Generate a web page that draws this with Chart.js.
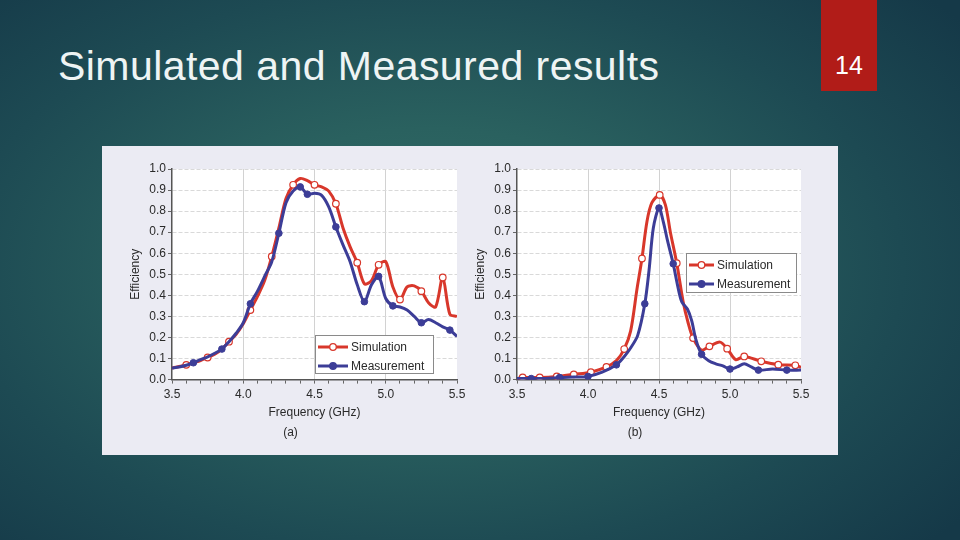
<!DOCTYPE html>
<html>
<head>
<meta charset="utf-8">
<script src="https://cdn.jsdelivr.net/npm/chart.js@4.4.1/dist/chart.umd.min.js"></script>
<style>
  html, body { margin: 0; padding: 0; }
  body {
    width: 960px; height: 540px; overflow: hidden; position: relative;
    font-family: "Liberation Sans", Arial, sans-serif;
    background: radial-gradient(ellipse 70% 75% at 45% 50%, #336e68 0%, #2a615f 35%, #1d4a53 70%, #153948 100%);
  }
  #title {
    position: absolute; left: 58px; top: 46px;
    font-size: 41px; letter-spacing: 0.45px; line-height: 1; color: #eef4f4; white-space: nowrap;
  }
  #pagenum {
    position: absolute; left: 821px; top: 0; width: 56px; height: 91px;
    background: #b11c18; color: #fff;
  }
  #pagenum span {
    position: absolute; left: 0; width: 56px; top: 53px;
    text-align: center; font-size: 25px; line-height: 1;
  }
  #panel {
    position: absolute; left: 102px; top: 146px; width: 736px; height: 309px;
    background: #ebebf3;
  }
  #panel canvas { position: absolute; top: 0; }
</style>
</head>
<body>
<div id="title">Simulated and Measured results</div>
<div id="pagenum"><span>14</span></div>
<div id="panel">
  <canvas id="chartA" width="372" height="309" style="left:0"></canvas>
  <canvas id="chartB" width="372" height="309" style="left:364px"></canvas>
</div>

<script>
// (a) frequencies in GHz
const freqA = [3.5, 3.55, 3.6, 3.65, 3.7, 3.75, 3.8, 3.85, 3.9, 3.95,
  4.0, 4.05, 4.1, 4.15, 4.2, 4.25, 4.3, 4.35, 4.4, 4.45,
  4.5, 4.55, 4.6, 4.65, 4.7, 4.75, 4.8, 4.85, 4.9, 4.95,
  5.0, 5.05, 5.1, 5.15, 5.2, 5.25, 5.3, 5.35, 5.4, 5.45, 5.5];
const simA = [0.055, 0.062, 0.07, 0.08, 0.09, 0.105, 0.12, 0.145, 0.18, 0.215,
  0.265, 0.33, 0.395, 0.47, 0.585, 0.72, 0.86, 0.925, 0.955, 0.945,
  0.925, 0.915, 0.895, 0.835, 0.72, 0.63, 0.555, 0.455, 0.47, 0.545,
  0.56, 0.44, 0.38, 0.44, 0.445, 0.42, 0.365, 0.345, 0.485, 0.31, 0.30];
const measA = [0.055, 0.06, 0.068, 0.08, 0.095, 0.108, 0.125, 0.145, 0.18, 0.22,
  0.27, 0.36, 0.42, 0.49, 0.56, 0.695, 0.84, 0.895, 0.915, 0.88,
  0.885, 0.875, 0.82, 0.725, 0.64, 0.56, 0.45, 0.37, 0.45, 0.49,
  0.385, 0.35, 0.345, 0.33, 0.30, 0.27, 0.285, 0.27, 0.25, 0.235, 0.205];
const simMarkA = [3.6, 3.75, 3.9, 4.05, 4.2, 4.35, 4.5, 4.65, 4.8, 4.95, 5.1, 5.25, 5.4];
const measMarkA = [3.65, 3.85, 4.05, 4.25, 4.4, 4.45, 4.65, 4.85, 4.95, 5.05, 5.25, 5.45];

// (b)
const freqSimB = [3.5, 3.54, 3.66, 3.78, 3.9, 4.02, 4.13, 4.2, 4.255, 4.3,
  4.345, 4.38, 4.415, 4.45, 4.505, 4.545, 4.58, 4.625, 4.67, 4.705,
  4.74, 4.8, 4.855, 4.93, 4.98, 5.04, 5.1, 5.22, 5.34, 5.46, 5.5];
const simB = [0.005, 0.01, 0.01, 0.015, 0.025, 0.035, 0.06, 0.09, 0.145, 0.23,
  0.43, 0.575, 0.75, 0.84, 0.877, 0.83, 0.70, 0.553, 0.37, 0.27,
  0.197, 0.14, 0.158, 0.178, 0.147, 0.095, 0.11, 0.087, 0.071, 0.068, 0.058];
const freqMeasB = [3.5, 3.6, 3.7, 3.8, 3.9, 4.0, 4.1, 4.2, 4.25, 4.3,
  4.35, 4.4, 4.43, 4.46, 4.5, 4.53, 4.56, 4.6, 4.63, 4.66,
  4.7, 4.73, 4.76, 4.8, 4.85, 4.9, 4.95, 5.0, 5.05, 5.1,
  5.15, 5.2, 5.3, 5.4, 5.5];
const measB = [0.005, 0.005, 0.005, 0.01, 0.012, 0.015, 0.035, 0.07, 0.105, 0.15,
  0.21, 0.36, 0.52, 0.72, 0.815, 0.75, 0.66, 0.55, 0.45, 0.37,
  0.335, 0.28, 0.19, 0.12, 0.09, 0.075, 0.065, 0.05, 0.06, 0.075,
  0.06, 0.045, 0.05, 0.045, 0.045];
const simMarkB = [3.54, 3.66, 3.78, 3.9, 4.02, 4.13, 4.255, 4.38, 4.505, 4.625, 4.74, 4.855, 4.98, 5.1, 5.22, 5.34, 5.46];
const measMarkB = [3.6, 3.8, 4.0, 4.2, 4.4, 4.5, 4.6, 4.8, 5.0, 5.2, 5.4];

const seriesNames = ['Simulation', 'Measurement'];
const yTicks = [0, 0.1, 0.2, 0.3, 0.4, 0.5, 0.6, 0.7, 0.8, 0.9, 1.0];

const RED = '#d8372b';
const BLUE = '#3c3d97';
const TXT = '#2a2a2a';

const isHalf = v => Math.abs(v * 2 - Math.round(v * 2)) < 1e-6;
const marked = (list, x) => list.some(m => Math.abs(m - x) < 1e-6);

// legend box drawn inside the plot
const boxLegend = {
  id: 'boxLegend',
  afterDraw(chart, args, o) {
    const { ctx, chartArea } = chart;
    const x = chartArea.left + o.x, y = chartArea.top + o.y;
    ctx.save();
    ctx.fillStyle = '#ffffff';
    ctx.fillRect(x, y, o.w, o.h);
    ctx.strokeStyle = '#8a8a8a';
    ctx.lineWidth = 1;
    ctx.strokeRect(x + 0.5, y + 0.5, o.w, o.h);
    ctx.font = '12px "Liberation Sans", Arial, sans-serif';
    ctx.textBaseline = 'middle';
    chart.data.datasets.forEach((ds, i) => {
      const ry = y + 12 + i * 19;
      ctx.strokeStyle = ds.borderColor;
      ctx.lineWidth = 3;
      ctx.beginPath();
      ctx.moveTo(x + 3, ry);
      ctx.lineTo(x + 3 + o.line, ry);
      ctx.stroke();
      ctx.beginPath();
      ctx.arc(x + 3 + o.line / 2, ry, 3.3, 0, Math.PI * 2);
      ctx.fillStyle = ds.pointBackgroundColor;
      ctx.fill();
      ctx.lineWidth = 1.3;
      ctx.strokeStyle = ds.pointBorderColor;
      ctx.stroke();
      ctx.fillStyle = TXT;
      ctx.fillText(ds.label, x + o.line + 6, ry + 0.5);
    });
    ctx.restore();
  }
};

const plotBg = {
  id: 'plotBg',
  beforeDraw(chart) {
    const { ctx, chartArea: a } = chart;
    ctx.save();
    ctx.fillStyle = '#ffffff';
    ctx.fillRect(a.left, a.top, a.right - a.left, a.bottom - a.top);
    ctx.restore();
  }
};

function makeChart(id, sim, meas, label, pad, legendPos) {
  const datasets = [
    {
      label: seriesNames[0],
      data: sim.freq.map((f, i) => ({ x: f, y: sim.vals[i] })),
      borderColor: RED, borderWidth: 3, tension: 0.3,
      pointBackgroundColor: '#ffffff', pointBorderColor: RED, pointBorderWidth: 1.2,
      pointRadius: c => marked(sim.marks, c.raw.x) ? 3.3 : 0,
      order: 2
    },
    {
      label: seriesNames[1],
      data: meas.freq.map((f, i) => ({ x: f, y: meas.vals[i] })),
      borderColor: BLUE, borderWidth: 3, tension: 0.3,
      pointBackgroundColor: BLUE, pointBorderColor: BLUE, pointBorderWidth: 1,
      pointRadius: c => marked(meas.marks, c.raw.x) ? 3.3 : 0,
      order: 1
    }
  ];

  return new Chart(document.getElementById(id), {
    type: 'line',
    data: { datasets },
    plugins: [plotBg, boxLegend],
    options: {
      responsive: false,
      animation: false,
      events: [],
      layout: { padding: pad },
      scales: {
        x: {
          type: 'linear', min: 3.5, max: 5.5,
          afterFit: s => { s.height = 44; },
          ticks: {
            stepSize: 0.1, autoSkip: false, maxRotation: 0, padding: 4,
            color: TXT, font: { size: 12, family: '"Liberation Sans", Arial' },
            callback: v => isHalf(v) ? v.toFixed(1) : ''
          },
          grid: {
            color: c => (c.tick && isHalf(c.tick.value) && c.tick.value > 3.6 && c.tick.value < 5.4) ? '#d2d2d2' : 'transparent',
            tickColor: '#666', tickLength: 4, lineWidth: 1
          },
          border: { color: '#555', width: 1.5 },
          title: {
            display: true, text: 'Frequency (GHz)', color: TXT,
            font: { size: 12, family: '"Liberation Sans", Arial' }, padding: { top: 4, bottom: 4 }
          }
        },
        y: {
          min: 0, max: 1,
          afterFit: s => { s.width = 48; },
          afterBuildTicks: s => { s.ticks = yTicks.map(v => ({ value: v })); },
          ticks: {
            padding: 2, color: TXT, font: { size: 12, family: '"Liberation Sans", Arial' },
            callback: v => v.toFixed(1)
          },
          grid: { color: '#d9d9d9', tickColor: '#666', tickLength: 4, lineWidth: 1 },
          border: { color: '#555', width: 1.5, dash: [4, 2] },
          title: {
            display: true, text: 'Efficiency', color: TXT,
            font: { size: 12, family: '"Liberation Sans", Arial' }, padding: { top: 4, bottom: 4 }
          }
        }
      },
      plugins: {
        legend: { display: false },
        tooltip: { enabled: false },
        title: {
          display: true, position: 'bottom', text: label, color: TXT,
          font: { size: 12, weight: 'normal', family: '"Liberation Sans", Arial' },
          padding: { top: 2, bottom: 15 }
        },
        boxLegend: legendPos
      }
    }
  });
}

makeChart('chartA',
  { freq: freqA, vals: simA, marks: simMarkA },
  { freq: freqA, vals: measA, marks: measMarkA },
  '(a)', { left: 22, top: 23, right: 17, bottom: 0 },
  { x: 143, y: 166, w: 118, h: 38, line: 30 });

makeChart('chartB',
  { freq: freqSimB, vals: simB, marks: simMarkB },
  { freq: freqMeasB, vals: measB, marks: measMarkB },
  '(b)', { left: 3, top: 23, right: 37, bottom: 0 },
  { x: 169, y: 84, w: 110, h: 39, line: 25 });
</script>
</body>
</html>
